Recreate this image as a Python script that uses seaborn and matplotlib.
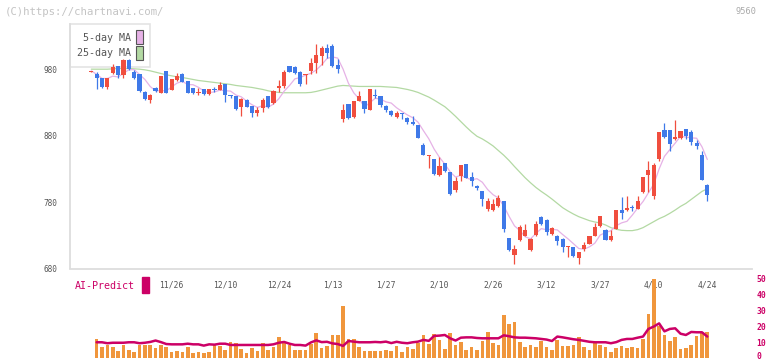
import numpy as np
import pandas as pd
import matplotlib
matplotlib.use("Agg")
import matplotlib.pyplot as plt
from matplotlib.patches import Patch, Rectangle
from matplotlib.transforms import ScaledTranslation
import seaborn as sns

# daily candles (index 0 = first candle)
opens = [
    976, 973, 966, 952.5, 975, 984.5, 971.5, 994.5, 975.5, 972.5,
    946, 933, 951, 944.5, 977, 948.5, 963.5, 972, 962, 951,
    944.5, 949.5, 942, 949.5, 948.5, 957.5, 939.5, 939.5, 923.5, 934,
    924.5, 914.5, 922, 939.5, 928.5, 952, 954.5, 984.5, 983, 976,
    971, 977, 989.5, 1000, 1012.5, 1014.5, 986, 905, 927, 908.5,
    932.5, 932, 918.5, 940, 939.5, 925, 917, 908.5, 913.5, 907,
    901, 896, 866, 850, 845, 820, 838.5, 825, 798.5, 819.5,
    837.5, 817.5, 804.5, 796, 770, 767.5, 773.5, 781, 726, 700,
    723.5, 729.5, 707.5, 730, 757.5, 753.5, 732.5, 729.5, 725, 712.5,
    712, 696, 710, 717.5, 729.5, 743.5, 738.5, 723.5, 740, 767.5,
    767.5, 771, 770, 794.5, 820, 789.5, 844.5, 888.5, 888.5, 874.5,
    876, 889.5, 885, 869.5, 851, 806,
]
highs = [
    978, 976, 967, 966, 988, 985, 995, 996, 978.5, 973,
    946.5, 942.5, 953, 970, 977.5, 965, 974, 973.5, 962.5, 952,
    952, 950.5, 950, 953.5, 961, 958, 941, 940, 937, 935,
    925, 923.5, 937, 940, 948, 963.5, 979.5, 985, 984.5, 977,
    972.5, 997, 1018.5, 1014.5, 1018.5, 1018.5, 995, 927, 927.5, 932.5,
    947, 932.5, 950.5, 949.5, 940, 925.5, 918.5, 917, 914, 907.5,
    909.5, 896.5, 868.5, 851.5, 845.5, 848.5, 839, 825.5, 817.5, 836.5,
    838, 825, 805, 796.5, 786, 785, 791, 781.5, 726.5, 715,
    745, 747, 725.5, 751, 759.5, 754, 743, 730, 725.5, 714.5,
    712.5, 704.5, 719.5, 729.5, 748.5, 759.5, 739, 738.5, 767.5, 787,
    788.5, 776, 788.5, 817, 842, 839.5, 885, 898.5, 889, 903.5,
    887.5, 890, 888.5, 873.5, 857, 807.5,
]
lows = [
    975.5, 949.5, 952, 949.5, 972, 966, 967, 979.5, 964.5, 946,
    933, 929.5, 946, 944, 943.5, 948, 962, 960, 943.5, 942.5,
    941, 941, 941.5, 946, 948, 931, 937, 918, 909.5, 922.5,
    908.5, 910, 916, 922, 928, 945, 951, 975.5, 973, 954.5,
    957.5, 972, 973.5, 986, 997, 983.5, 974.5, 901, 905, 907,
    932, 914.5, 918, 937, 923.5, 915, 909, 906, 905, 897.5,
    896, 876, 850.5, 832, 821, 819.5, 825.5, 790, 795, 811,
    815.5, 803.5, 797.5, 773.5, 767, 767, 773, 734.5, 707, 687.5,
    721, 729, 706, 729.5, 746, 731, 731, 716, 704.5, 697,
    698, 687.5, 706, 717, 729, 743, 723, 721, 739, 755,
    767, 766, 769, 794, 795, 785, 842.5, 877, 857.5, 874,
    875.5, 874.5, 866, 859.5, 813, 781,
]
closes = [
    977.5, 967, 953.5, 966, 983.5, 971.5, 994.5, 980, 967, 947,
    934.5, 941, 947, 969.5, 944.5, 964.5, 969.5, 961, 944.5, 943.5,
    945, 942, 949.5, 949, 956.5, 941, 939, 920, 935.5, 923.5,
    914.5, 918.5, 933.5, 923.5, 947, 954.5, 976, 976, 973.5, 957.5,
    972, 990, 1001, 1012.5, 1004.5, 984.5, 981, 918.5, 906, 932,
    939.5, 920, 950, 939.5, 926, 918.5, 911, 914.5, 912, 900,
    897.5, 877, 851, 851, 822.5, 835, 826, 792.5, 812, 836,
    816, 811, 801, 785, 781, 777.5, 786, 740, 707.5, 710,
    742.5, 738.5, 725, 747, 747, 734.5, 741, 721, 712, 714.5,
    698.5, 704.5, 716, 729.5, 742, 759.5, 723.5, 729.5, 767.5, 763.5,
    771, 770.5, 782, 817, 828.5, 836, 885, 877.5, 867.5, 877.5,
    887, 880, 871, 865, 813.5, 791,
]
# 25-day moving average as drawn (needs history before the first candle)
ma25 = [
    980, 980, 980, 980, 980.5, 981, 981, 981, 980.5, 980,
    979, 977.5, 975.5, 973.5, 971.5, 970, 968.5, 967.5, 966, 964.5,
    963, 962, 961, 960, 959, 958, 957, 955.5, 954.5, 953.5,
    952.5, 951, 949.5, 947.5, 946, 945, 944.5, 944.5, 944.5, 944.5,
    944.5, 945, 946.5, 948.5, 950.5, 952.5, 954.5, 955.5, 955, 954.5,
    954, 954, 954, 954, 954, 953.5, 953, 952.5, 951, 949.5,
    947.5, 945, 941.5, 938, 933.5, 928.5, 923.5, 916.5, 909, 901,
    893, 885.5, 879, 875, 870, 864.5, 857.5, 850.5, 842.5, 833.5,
    825, 816.5, 809, 802, 796, 790.5, 784.5, 778, 771.5, 766.5,
    762, 758, 755, 752, 750, 748.5, 745.5, 741.5, 739, 737.5,
    737, 737, 738.5, 741.5, 746, 750.5, 755, 758.5, 763, 768,
    773.5, 778, 784, 790, 796, 800,
]
volume = [
    np.nan, 12.2, 7.1, 8.4, 7.1, 4.6, 8.4, 5.3, 4.0, 8.4,
    8.4, 8.4, 6.5, 8.4, 7.1, 4.0, 4.6, 4.0, 7.1, 3.4,
    4.0, 3.4, 4.0, 8.4, 7.8, 5.3, 10.3, 9.7, 5.9, 3.4,
    6.5, 4.6, 9.7, 5.3, 7.1, 13.4, 10.3, 8.4, 5.3, 5.3,
    5.3, 9.0, 16.0, 6.5, 7.8, 14.7, 14.7, 33.0, 12.2, 12.2,
    7.1, 4.6, 4.6, 4.6, 4.3, 5.3, 4.6, 7.8, 4.0, 7.1,
    5.9, 9.7, 14.7, 9.0, 15.3, 11.6, 5.9, 16.0, 8.4, 10.3,
    5.3, 7.1, 5.3, 10.9, 16.6, 9.7, 8.4, 27.3, 21.6, 22.9,
    10.3, 7.1, 8.4, 7.1, 10.9, 7.1, 5.3, 11.6, 7.8, 7.8,
    8.4, 13.4, 7.1, 5.3, 10.3, 8.4, 7.1, 4.0, 6.5, 7.8,
    6.5, 7.1, 6.5, 12.2, 27.9, 50.0, 20.4, 14.7, 10.9, 13.4,
    5.9, 6.5, 8.4, 14.1, 16.6, 16.6,
]
ai_predict = [
    np.nan, 10.1, 10.1, 9.5, 9.8, 9.8, 9.8, 10.1, 10.1, 9.5,
    9.8, 10.3, 11.2, 10.2, 9.0, 8.8, 8.8, 8.8, 9.2, 8.8,
    8.8, 8.0, 8.8, 8.6, 9.2, 9.2, 8.4, 8.4, 8.4, 8.4,
    8.4, 8.4, 8.4, 8.4, 8.8, 9.8, 10.3, 9.2, 8.4, 8.4,
    8.0, 10.0, 11.3, 10.2, 10.4, 9.4, 9.0, 7.8, 10.9, 10.5,
    10.1, 10.1, 10.1, 10.3, 10.1, 10.5, 9.6, 10.4, 9.8, 9.5,
    10.1, 10.5, 11.6, 11.0, 14.1, 14.3, 14.7, 12.6, 11.2, 13.0,
    13.2, 13.2, 12.8, 12.6, 12.6, 12.6, 12.6, 14.5, 13.9, 13.2,
    13.0, 13.0, 12.8, 12.6, 12.2, 11.8, 10.9, 13.7, 13.2, 12.6,
    12.0, 11.6, 11.0, 10.4, 10.1, 10.1, 10.1, 9.5, 10.2, 11.6,
    12.2, 12.2, 13.0, 13.7, 18.5, 20.0, 22.0, 17.0, 18.5, 18.9,
    15.5, 14.7, 16.6, 16.4, 16.4, 13.7,
]
label_idx = [15, 25, 35, 45, 55, 65, 75, 85, 95, 105, 115]
date_labels = ["11/26", "12/10", "12/24", "1/13", "1/27", "2/10",
               "2/26", "3/12", "3/27", "4/10", "4/24"]
price_ticks = [680, 780, 880, 980]
ai_ticks = [0, 10, 20, 30, 40, 50]

UP = "#f04e3e"
DOWN = "#3f79e8"
MA5_C = "#e6b2e6"
MA25_C = "#b3d9a3"
VOL_C = "#f0963c"
AI_C = "#cc0066"
AXIS_C = "#dddddd"
TXT_C = "#555555"

df = pd.DataFrame({"i": np.arange(len(closes)), "open": opens, "high": highs,
                   "low": lows, "close": closes, "ma25": ma25,
                   "volume": volume, "ai": ai_predict})
df["ma5"] = df["close"].rolling(5, min_periods=1).mean()

sns.set_theme(style="white")
plt.rcParams["font.family"] = ["DejaVu Sans Mono"]

W, H = 772, 361
fig = plt.figure(figsize=(W / 100, H / 100), dpi=100)
ax = fig.add_axes([70.3 / W, 1 - 268.5 / H, 682 / W, 244.5 / H])
axv = fig.add_axes([70.3 / W, 1 - 358.3 / H, 682 / W, 82.5 / H], sharex=ax)
axv.patch.set_alpha(0)

# moving averages (behind the candles)
sns.lineplot(data=df, x="i", y="ma25", ax=ax, color=MA25_C, lw=0.9, zorder=2)
sns.lineplot(data=df, x="i", y="ma5", ax=ax, color=MA5_C, lw=0.9, zorder=2)

# candles
up = df["close"] >= df["open"]
colors = np.where(up, UP, DOWN)
ax.vlines(df["i"], df["low"], df["high"], colors=colors, lw=0.9, zorder=6)
body_lo = np.minimum(df["open"], df["close"])
body_h = np.maximum((df["close"] - df["open"]).abs(), 1.5)
ax.bar(df["i"], body_h, bottom=body_lo, width=0.78, color=colors,
       linewidth=0, zorder=7)

xmin, xmax = -3.92, 123.4
ax.set_xlim(xmin, xmax)
ax.set_ylim(680, 1048)
ax.set_xlabel("")
ax.set_ylabel("")
for s in ["top", "right"]:
    ax.spines[s].set_visible(False)
for s in ["left", "bottom"]:
    ax.spines[s].set_color(AXIS_C)
    ax.spines[s].set_linewidth(1.3)
ax.set_yticks(price_ticks)
ax.tick_params(axis="y", length=5, width=1.3, color=AXIS_C, direction="out",
               labelsize=5.6, labelcolor=TXT_C, pad=4)
ax.set_xticks(label_idx)
ax.set_xticklabels(date_labels)
ax.set_xticks(np.linspace(xmin, xmax, 12), minor=True)
ax.tick_params(axis="x", which="major", length=0, pad=9, labelsize=5.8,
               labelcolor=TXT_C)
ax.tick_params(axis="x", which="minor", length=5, width=1.3, color=AXIS_C,
               direction="inout")

handles = [Patch(facecolor=MA5_C, edgecolor="#555555", lw=0.8),
           Patch(facecolor=MA25_C, edgecolor="#555555", lw=0.8)]
leg = ax.legend(handles, ["5-day MA", "25-day MA"], loc="upper left",
                bbox_to_anchor=(0, 1), borderaxespad=0, markerfirst=False,
                handlelength=0.7, handleheight=1.75, handletextpad=0.55,
                labelspacing=0.2, borderpad=0.65, fontsize=7.2,
                fancybox=False, labelcolor=TXT_C)
leg.get_frame().set_edgecolor(AXIS_C)
leg.get_frame().set_facecolor("none")
leg.get_frame().set_linewidth(1.2)
leg.set_zorder(3)

# volume + AI-Predict panel
axv.bar(df["i"], df["volume"], width=0.68, color=VOL_C, linewidth=0)
sns.lineplot(data=df, x="i", y="ai", ax=axv, color=AI_C, lw=1.8)
axv.set_ylim(0, 52)
axv.set_xlabel("")
axv.set_ylabel("")
axv.yaxis.tick_right()
axv.set_yticks(ai_ticks)
axv.tick_params(axis="y", length=0, pad=3, labelsize=5.8, labelcolor=AI_C)
for lbl in axv.get_yticklabels():
    lbl.set_fontweight("bold")
zero_lbl = axv.get_yticklabels()[0]
zero_lbl.set_transform(zero_lbl.get_transform()
                       + ScaledTranslation(0, 0.03, fig.dpi_scale_trans))
axv.tick_params(axis="x", which="both", bottom=False, labelbottom=False)
for s in axv.spines.values():
    s.set_visible(False)

fig.text(75 / W, 1 - 286 / H, "AI-Predict", color=AI_C, fontsize=7.2,
         va="center")
fig.patches.append(Rectangle((142 / W, 1 - 293 / H), 7 / W, 16 / H,
                             transform=fig.transFigure, color=AI_C))
fig.text(5 / W, 1 - 12 / H, "(C)https://chartnavi.com/", color="#c4c4c4",
         fontsize=7.7, va="center")
fig.text(757 / W, 1 - 12 / H, "9560", color="#aaaaaa", fontsize=6.2,
         va="center", ha="right")

fig.savefig("out.png", dpi=100)
